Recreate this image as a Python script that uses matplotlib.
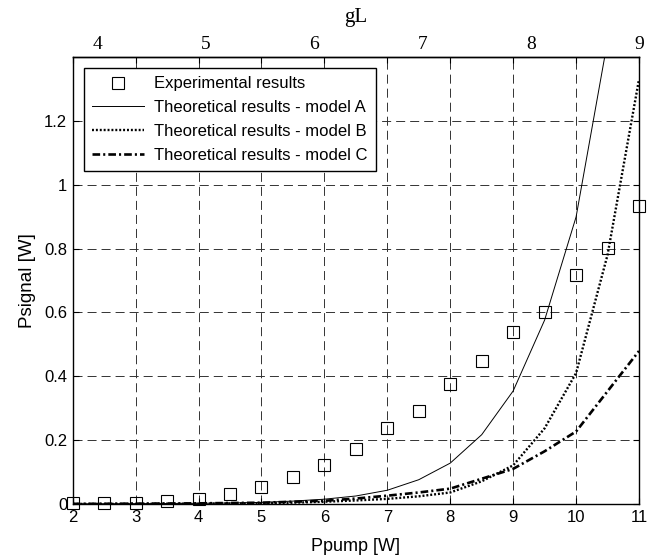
import matplotlib
matplotlib.use("Agg")
import matplotlib.pyplot as plt

plt.rcParams['font.family'] = ['Liberation Sans', 'DejaVu Sans']
plt.rcParams['lines.scale_dashes'] = False

# Data
ppump_exp = [2, 2.5, 3, 3.5, 4, 4.5, 5, 5.5, 6, 6.5, 7, 7.5, 8, 8.5, 9, 9.5, 10, 10.5, 11]
psig_exp = [0.003, 0.003, 0.004, 0.008, 0.017, 0.032, 0.054, 0.083, 0.123, 0.172, 0.237,
            0.290, 0.376, 0.449, 0.539, 0.600, 0.716, 0.802, 0.933]
ppump_th = [2, 2.5, 3, 3.5, 4, 4.5, 5, 5.5, 6, 6.5, 7, 7.5, 8, 8.5, 9, 9.5, 10, 10.5, 11]
model_a = [0.0005, 0.0008, 0.001, 0.0015, 0.002, 0.003, 0.005, 0.009, 0.015, 0.025, 0.043,
           0.076, 0.128, 0.217, 0.354, 0.576, 0.899, 1.45, 2.3]
model_b = [0.0002, 0.0003, 0.0005, 0.0008, 0.001, 0.0015, 0.002, 0.004, 0.007, 0.011, 0.016,
           0.024, 0.036, 0.071, 0.121, 0.237, 0.41, 0.78, 1.33]
model_c = [0.0004, 0.0006, 0.001, 0.0015, 0.002, 0.003, 0.004, 0.007, 0.010, 0.017, 0.026,
           0.036, 0.048, 0.079, 0.110, 0.165, 0.227, 0.353, 0.479]
x_ticks = [2, 3, 4, 5, 6, 7, 8, 9, 10, 11]
y_ticks = [0, 0.2, 0.4, 0.6, 0.8, 1.0, 1.2]
y_ticklabels = ['0', '0.2', '0.4', '0.6', '0.8', '1', '1.2']
gl_ticks = [4, 5, 6, 7, 8, 9]
GL_SLOPE = 1.72  # Ppump units per gL unit

fig = plt.figure(figsize=(6.57, 5.57), dpi=100)
ax = fig.add_axes([0.1107, 0.0952, 0.8619, 0.8025])

ax.plot(ppump_exp, psig_exp, linestyle='none', marker='s', markersize=8,
        markerfacecolor='none', markeredgecolor='black', markeredgewidth=0.8,
        clip_on=False, zorder=5, label='Experimental results')
ax.plot(ppump_th, model_a, color='black', linewidth=0.7, zorder=4,
        label='Theoretical results - model A')
ax.plot(ppump_th, model_b, color='black', linewidth=1.7, linestyle=(0, (1.4, 1.4)),
        zorder=4, label='Theoretical results - model B')
ax.plot(ppump_th, model_c, color='black', linewidth=1.9, linestyle=(0, (5.5, 2.2, 1.5, 2.2)),
        zorder=4, label='Theoretical results - model C')

ax.set_xlim(2, 11)
ax.set_ylim(0, 1.4)
ax.set_xticks(x_ticks)
ax.set_yticks(y_ticks)
ax.set_yticklabels(y_ticklabels)
ax.grid(True, color='#333333', linewidth=0.7, linestyle=(0, (6.5, 3.6)))
ax.set_axisbelow(True)
ax.tick_params(direction='in', length=4.5, width=0.8, top=True, right=True,
               labelsize=12, pad=4)
for s in ax.spines.values():
    s.set_linewidth(1.0)

ax.set_xlabel('Ppump [W]', fontsize=13, labelpad=10)
ax.set_ylabel('Psignal [W]', fontsize=13.5, labelpad=6)

sec = ax.secondary_xaxis('top', functions=(lambda p: 9 - (11 - p) / GL_SLOPE,
                                            lambda g: 11 - (9 - g) * GL_SLOPE))
sec.set_xticks(gl_ticks)
sec.tick_params(length=0, labelsize=14, pad=3)
for lab in sec.get_xticklabels():
    lab.set_family('Liberation Serif')
sec.set_xlabel('gL', fontsize=15, family='Liberation Serif', labelpad=10)
sec.spines['top'].set_linewidth(1.0)

leg = ax.legend(loc='upper left', bbox_to_anchor=(0.02, 0.975), fontsize=12,
                frameon=True, fancybox=False, framealpha=1, edgecolor='black',
                handlelength=3.1, handletextpad=0.6, labelspacing=0.53,
                borderpad=0.5, borderaxespad=0, numpoints=1)
leg.get_frame().set_linewidth(1.0)

fig.savefig('out.png', dpi=100)
